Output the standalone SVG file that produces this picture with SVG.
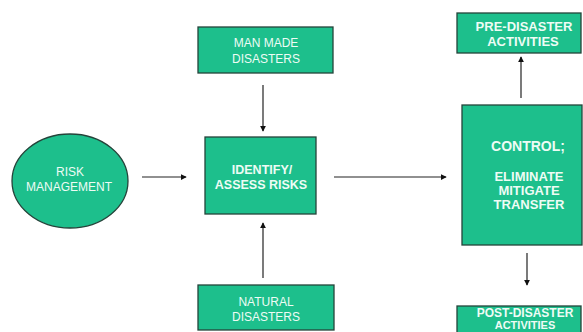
<svg xmlns="http://www.w3.org/2000/svg" width="583" height="332" viewBox="0 0 583 332">
<style>
.box{fill:#1DBF8C;stroke:#24443a;stroke-width:1.3}
.t{font-family:"Liberation Sans",Arial,sans-serif;font-size:12px;fill:#eefcf5;text-anchor:middle}
.b{font-weight:bold;font-size:13px}
.c{stroke:#222;stroke-width:1.2;fill:none;marker-end:url(#ah)}
</style>
<defs>
<marker id="ah" viewBox="0 0 8 8" refX="7" refY="4" markerWidth="6" markerHeight="6" orient="auto" markerUnits="userSpaceOnUse">
<path d="M0,0 L8,4 L0,8 z" fill="#111"/>
</marker>
</defs>
<rect width="583" height="332" fill="#fff"/>
<g id="connectors">
<line class="c" x1="142" y1="177" x2="186" y2="177"/>
<line class="c" x1="263" y1="85" x2="263" y2="131"/>
<line class="c" x1="263" y1="278" x2="263" y2="223"/>
<line class="c" x1="334" y1="177" x2="446" y2="177"/>
<line class="c" x1="521" y1="98" x2="521" y2="57"/>
<line class="c" x1="527" y1="253" x2="527" y2="285"/>
</g>
<g id="risk-management">
<ellipse class="box" cx="70" cy="181" rx="58" ry="47"/>
<text class="t" x="70" y="176">RISK</text>
<text class="t" x="69" y="191">MANAGEMENT</text>
</g>
<g id="man-made">
<rect class="box" x="198" y="27" width="135" height="46"/>
<text class="t" x="266" y="47">MAN MADE</text>
<text class="t" x="266" y="63">DISASTERS</text>
</g>
<g id="identify">
<rect class="box" x="205" y="137" width="111" height="77"/>
<text class="t b" x="262" y="174" style="font-size:12.5px">IDENTIFY/</text>
<text class="t b" x="261" y="189" style="font-size:12.5px">ASSESS RISKS</text>
</g>
<g id="natural">
<rect class="box" x="198" y="285" width="136" height="45"/>
<text class="t" x="266" y="306">NATURAL</text>
<text class="t" x="266" y="321">DISASTERS</text>
</g>
<g id="control">
<rect class="box" x="462" y="105" width="120" height="140"/>
<text class="t b" x="528" y="151" style="font-size:14px">CONTROL;</text>
<text class="t b" x="529" y="181">ELIMINATE</text>
<text class="t b" x="529" y="195">MITIGATE</text>
<text class="t b" x="529" y="209">TRANSFER</text>
</g>
<g id="pre-disaster">
<rect class="box" x="457" y="13" width="124" height="40"/>
<text class="t b" x="524" y="31">PRE-DISASTER</text>
<text class="t b" x="523" y="46">ACTIVITIES</text>
</g>
<g id="post-disaster">
<rect class="box" x="457" y="306" width="124" height="30"/>
<text class="t b" x="525" y="317" style="font-size:12px">POST-DISASTER</text>
<text class="t b" x="525" y="329" style="font-size:11px">ACTIVITIES</text>
</g>
</svg>
